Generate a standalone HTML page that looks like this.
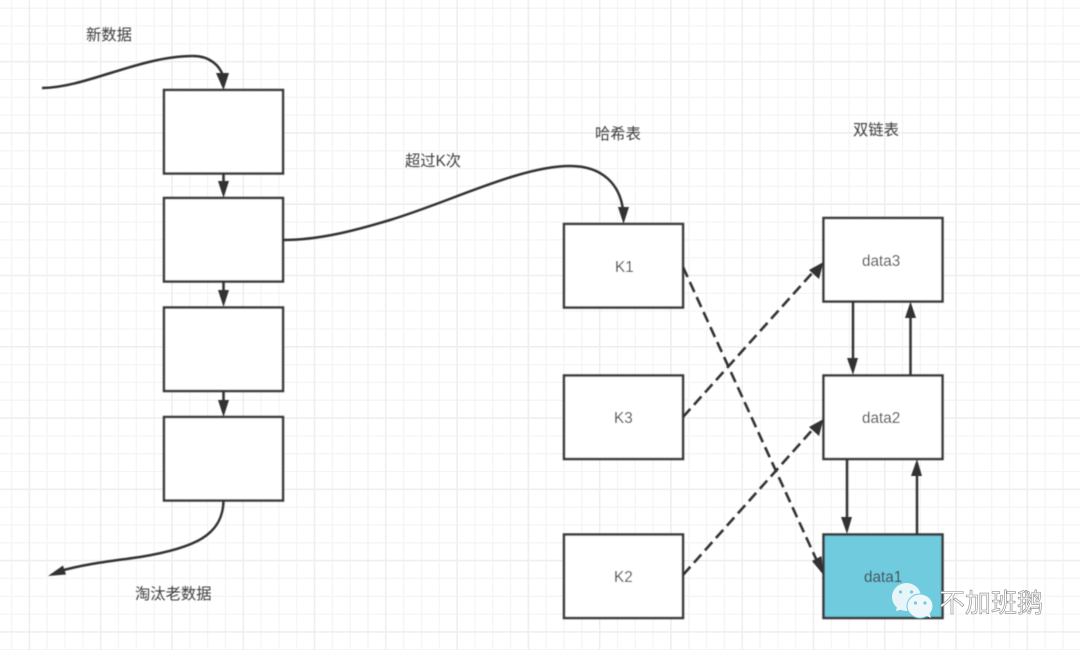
<!DOCTYPE html>
<html><head><meta charset="utf-8"><style>
html,body{margin:0;padding:0;background:#fff}
svg{display:block}
text{font-family:"Liberation Sans","Noto Sans CJK SC",sans-serif;font-size:15.300px;fill:#3e3e3e}
</style></head><body>
<svg width="1080" height="650" viewBox="0 0 1080 650" xmlns="http://www.w3.org/2000/svg">
<defs>
<filter id="b" x="-5%" y="-5%" width="110%" height="110%"><feGaussianBlur stdDeviation="0.4"/></filter>
</defs>
<rect width="1080" height="650" fill="#fff"/>
<path fill="none" stroke="#f5f5f5" stroke-width="1.300" d="M11.6 0V650M47.2 0V650M65.1 0V650M82.9 0V650M118.5 0V650M136.3 0V650M154.2 0V650M189.8 0V650M207.6 0V650M225.4 0V650M261.1 0V650M278.9 0V650M296.7 0V650M332.4 0V650M350.2 0V650M368 0V650M403.6 0V650M421.5 0V650M439.3 0V650M474.9 0V650M492.7 0V650M510.6 0V650M546.2 0V650M564 0V650M581.8 0V650M617.5 0V650M635.3 0V650M653.1 0V650M688.8 0V650M706.6 0V650M724.4 0V650M760 0V650M777.9 0V650M795.7 0V650M831.3 0V650M849.1 0V650M867 0V650M902.6 0V650M920.4 0V650M938.2 0V650M973.9 0V650M991.7 0V650M1009.5 0V650M1045.2 0V650M1063 0V650M0 8.2H1080M0 26H1080M0 43.8H1080M0 79.5H1080M0 97.3H1080M0 115.1H1080M0 150.8H1080M0 168.6H1080M0 186.4H1080M0 222H1080M0 239.9H1080M0 257.7H1080M0 293.3H1080M0 311.1H1080M0 329H1080M0 364.6H1080M0 382.4H1080M0 400.2H1080M0 435.9H1080M0 453.7H1080M0 471.5H1080M0 507.2H1080M0 525H1080M0 542.8H1080M0 578.4H1080M0 596.3H1080M0 614.1H1080M0 649.7H1080"/>
<path fill="none" stroke="#efefef" stroke-width="1.600" d="M29.4 0V650M100.7 0V650M172 0V650M243.3 0V650M314.5 0V650M385.8 0V650M457.1 0V650M528.4 0V650M599.7 0V650M670.9 0V650M742.2 0V650M813.5 0V650M884.8 0V650M956.1 0V650M1027.3 0V650M0 61.7H1080M0 132.9H1080M0 204.2H1080M0 275.5H1080M0 346.8H1080M0 418.1H1080M0 489.3H1080M0 560.6H1080M0 631.9H1080"/>
<g filter="url(#b)">
<g fill="#fff" stroke="#3a3a3a" stroke-width="2.500">
<rect x="164" y="90" width="119" height="83.500"/>
<rect x="164" y="198" width="119" height="83.500"/>
<rect x="164" y="307.500" width="119" height="83.500"/>
<rect x="164" y="417" width="119" height="83.500"/>
<rect x="564" y="224" width="119" height="83.500"/>
<rect x="564" y="375.500" width="119" height="83.500"/>
<rect x="564" y="534.500" width="119" height="83.500"/>
<rect x="823.500" y="218" width="119" height="83.500"/>
<rect x="823.500" y="375.500" width="119" height="83.500"/>
<rect x="823.500" y="534.500" width="119" height="83.500" fill="#6fcbdf"/>
</g>
<g fill="none" stroke="#333" stroke-width="2.500">
<path d="M42 88C85 88 140 56 193 56C210 56 220 66 223 76"/>
<path d="M223.500 173.500V184"/>
<path d="M223.500 281.500V293"/>
<path d="M223.500 391V403"/>
<path d="M223.500 500.500C223 535 195 548 140 557C105 562 85 564 60 571"/>
<path d="M283 240C320 240 357 230 390 220C450 202 520 166 570 166C603 166 620 185 623 210"/>
<path d="M853 301.500V361"/>
<path d="M910.500 375.500V315"/>
<path d="M847 459V520"/>
<path d="M917 534.500V474"/>
</g>
<g fill="none" stroke="#333" stroke-width="2.600" stroke-dasharray="11 5.500">
<path d="M683 267L817 561"/>
<path d="M683 417L814 271"/>
<path d="M683 575L814 428"/>
</g>
<g fill="#333">
<polygon points="223.500,90 216,73 229,73"/>
<polygon points="223.500,198 218,181 229,181"/>
<polygon points="223.500,307 218,290 229,290"/>
<polygon points="223.500,417 218,400 229,400"/>
<polygon points="48,576 63,565.500 66,574.500"/>
<polygon points="623.500,224 618,207 629,207"/>
<polygon points="823.500,262 809,270 819,279"/>
<polygon points="823.500,419 809,427 819,436"/>
<polygon points="823.500,575 812,561 821.500,556"/>
<polygon points="853,375 847,358 858,358"/>
<polygon points="910.500,301.500 905,318 916,318"/>
<polygon points="847,534 841,517 852,517"/>
<polygon points="917,459 911,476 922,476"/>
</g>
<text x="86" y="40">新数据</text>
<text x="135" y="599">淘汰老数据</text>
<text x="405" y="166">超过K次</text>
<text x="595" y="139">哈希表</text>
<text x="853" y="135">双链表</text>
<text x="615" y="272">K1</text>
<text x="614" y="423">K3</text>
<text x="614" y="582">K2</text>
<text x="862" y="266">data3</text>
<text x="862" y="423">data2</text>
<text x="864" y="582">data1</text>
</g>
<g>
<ellipse cx="906.500" cy="597" rx="14.500" ry="14" fill="#e8f5f8"/>
<polygon points="897,607 896,611 904,609" fill="#e8f5f8"/>
<circle cx="900.500" cy="592" r="1.600" fill="#6fcbdf"/>
<circle cx="911.500" cy="592" r="1.600" fill="#6fcbdf"/>
<ellipse cx="920" cy="606" rx="13" ry="12" fill="#eef7f9" stroke="#6fcbdf" stroke-width="1"/>
<polygon points="925,615 931,618 929,612" fill="#eef7f9"/>
<circle cx="915.500" cy="603" r="1.600" fill="#6fcbdf"/>
<circle cx="925" cy="603" r="1.600" fill="#6fcbdf"/>
<text x="939" y="612" style="font-size:26px;fill:#fff;stroke:#888;stroke-width:.6px">不加班鹅</text>
</g>
</svg>
</body></html>
